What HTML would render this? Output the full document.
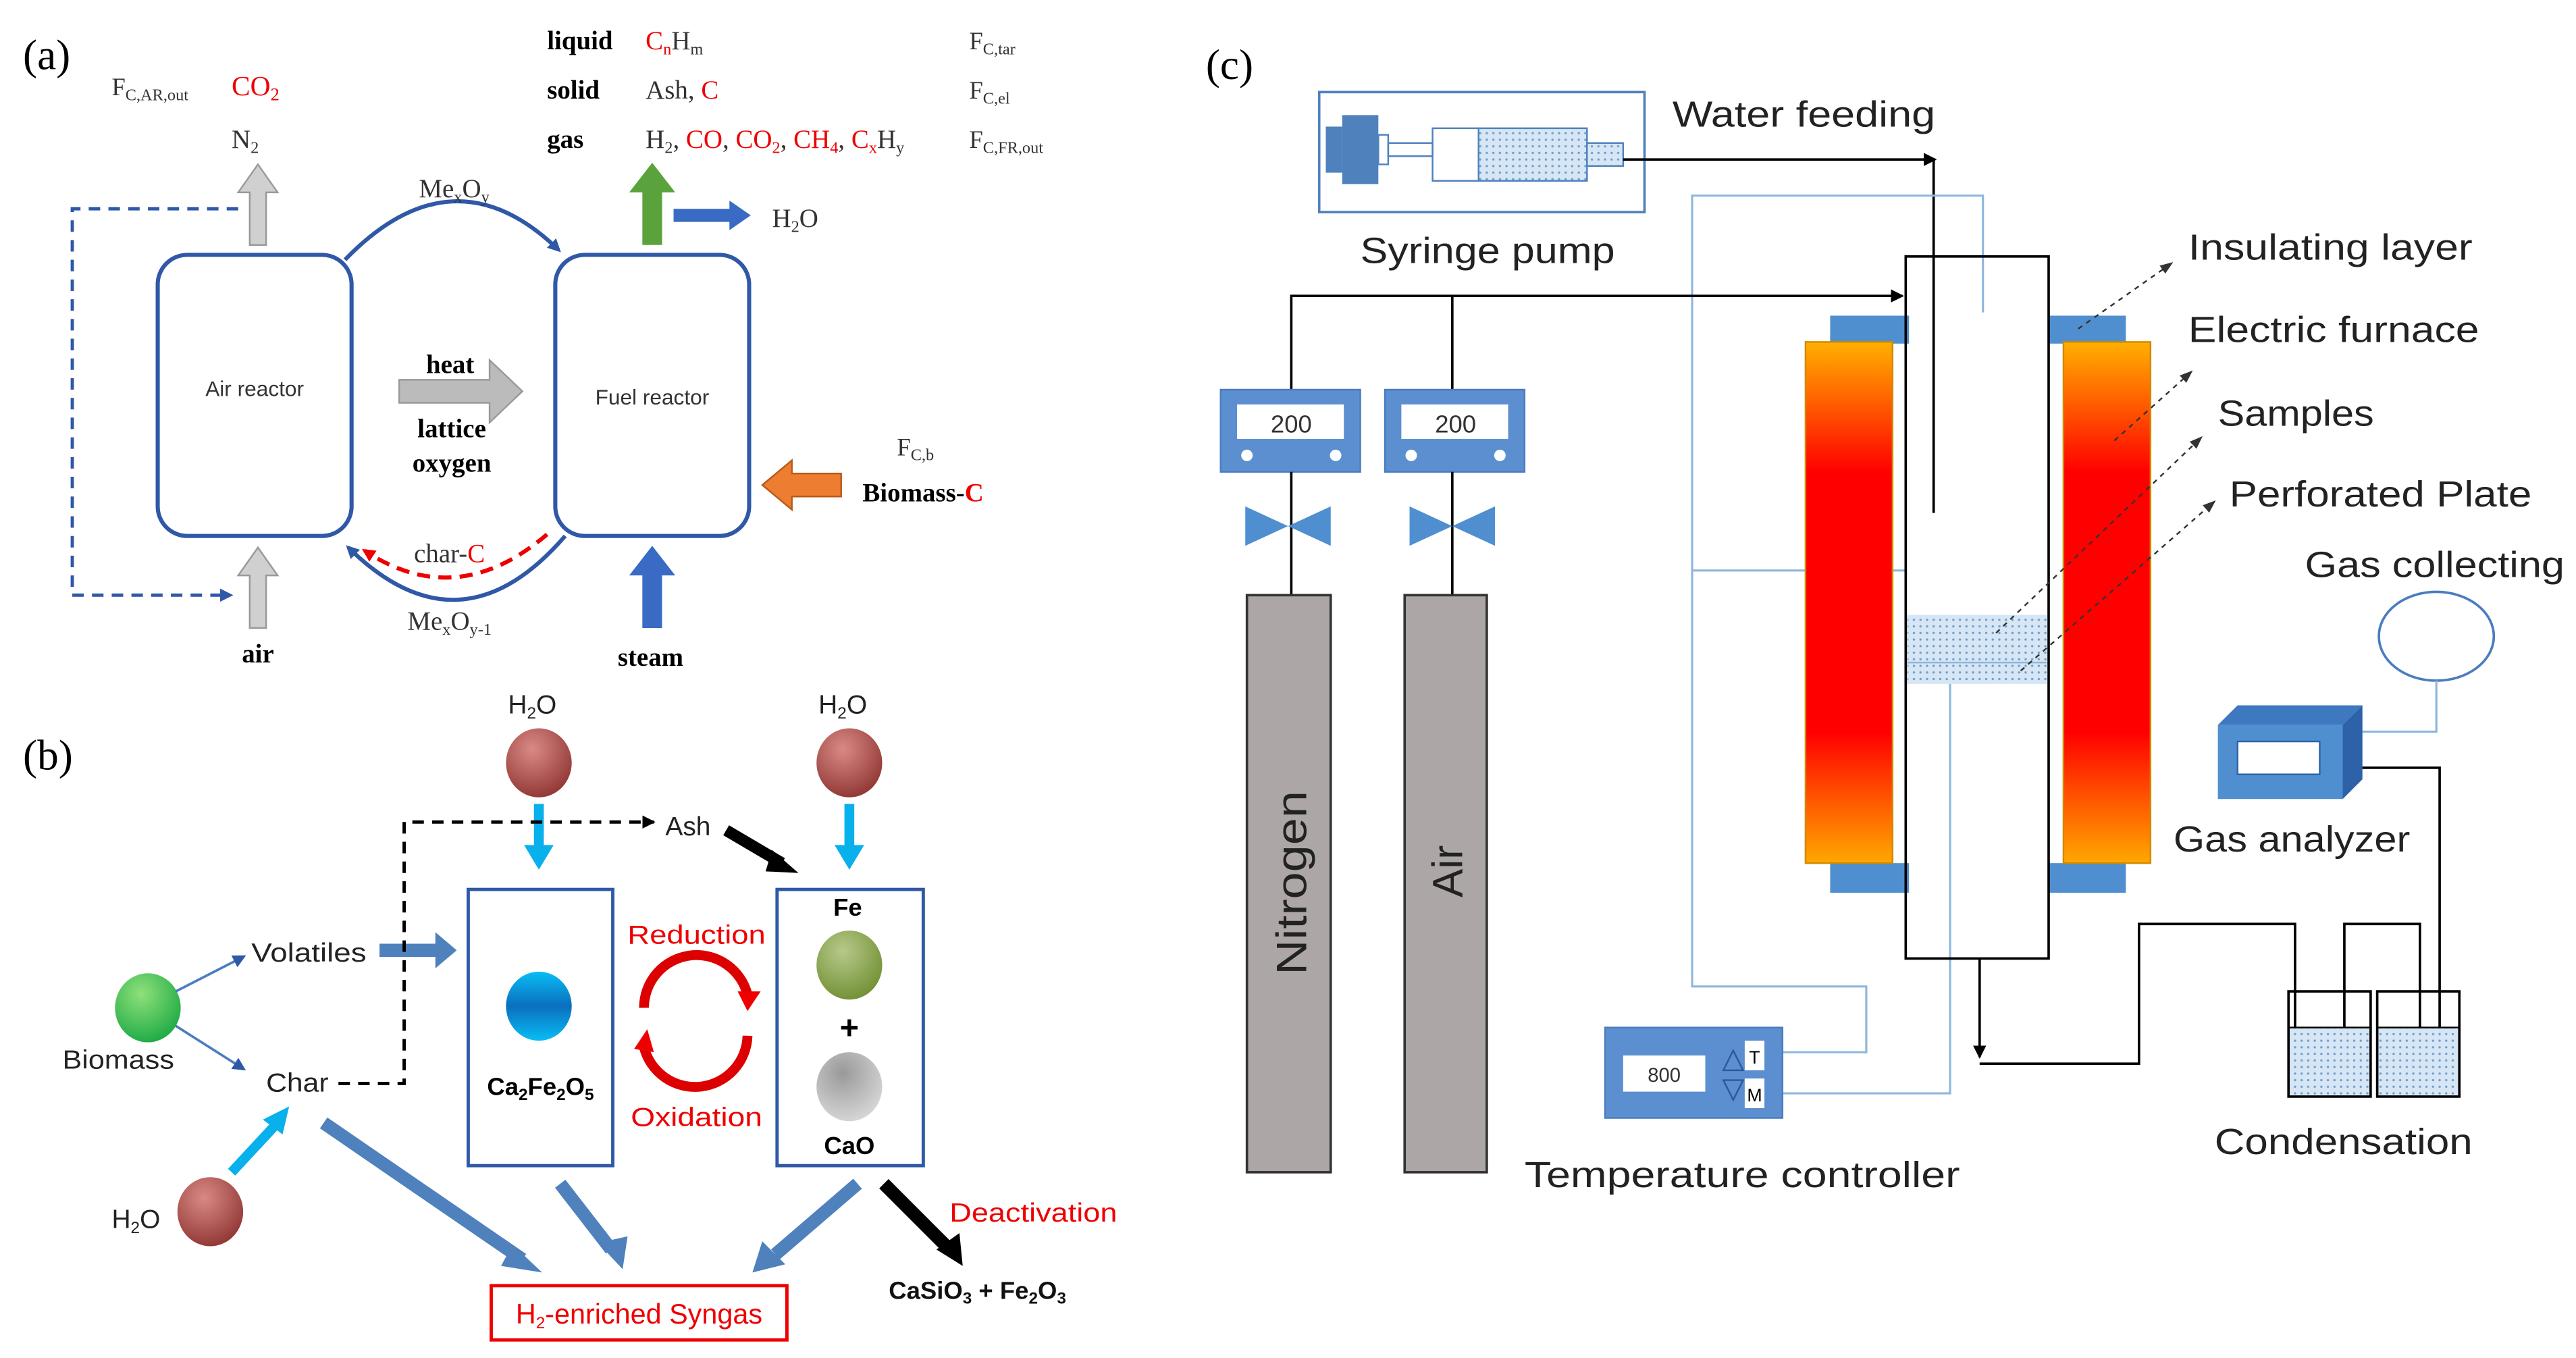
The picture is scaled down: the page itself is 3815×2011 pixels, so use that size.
<!DOCTYPE html>
<html><head><meta charset="utf-8"><style>
html,body{margin:0;padding:0;background:#fff;width:3815px;height:2011px;overflow:hidden}
svg{display:block}
.s{font-family:"Liberation Serif",serif}
.a{font-family:"Liberation Sans",sans-serif}
</style></head><body>
<svg width="3815" height="2011" viewBox="0 0 1568 826" preserveAspectRatio="none" xmlns="http://www.w3.org/2000/svg">
<defs>
<marker id="ab" markerWidth="8" markerHeight="8" refX="6" refY="4" orient="auto" markerUnits="userSpaceOnUse"><path d="M0,0 L8,4 L0,8 Z" fill="#2f58a6"/></marker>
<marker id="ar" markerWidth="8" markerHeight="8" refX="6" refY="4" orient="auto" markerUnits="userSpaceOnUse"><path d="M0,0 L8,4 L0,8 Z" fill="#e00"/></marker>
<marker id="ak" markerWidth="8" markerHeight="8" refX="7" refY="4" orient="auto" markerUnits="userSpaceOnUse"><path d="M0,0 L8,4 L0,8 Z" fill="#000"/></marker>
<marker id="ad" markerWidth="8" markerHeight="8" refX="7" refY="4" orient="auto" markerUnits="userSpaceOnUse"><path d="M0,1 L8,4 L0,7 Z" fill="#333"/></marker>
<radialGradient id="gr" cx="0.4" cy="0.3" r="0.8"><stop offset="0" stop-color="#d98a86"/><stop offset="1" stop-color="#8a2f2c"/></radialGradient>
<radialGradient id="gg" cx="0.4" cy="0.3" r="0.8"><stop offset="0" stop-color="#8fe07a"/><stop offset="1" stop-color="#13a540"/></radialGradient>
<linearGradient id="gb" x1="0" y1="0" x2="0" y2="1"><stop offset="0" stop-color="#08bdf5"/><stop offset="0.5" stop-color="#0a6fbe"/><stop offset="1" stop-color="#08bdf5"/></linearGradient>
<radialGradient id="go" cx="0.4" cy="0.3" r="0.8"><stop offset="0" stop-color="#b7c98a"/><stop offset="1" stop-color="#6b8a2c"/></radialGradient>
<radialGradient id="gy" cx="0.4" cy="0.3" r="0.8"><stop offset="0" stop-color="#999"/><stop offset="1" stop-color="#ddd"/></radialGradient>
<linearGradient id="gf" x1="0" y1="0" x2="0" y2="1"><stop offset="0" stop-color="#ffb000"/><stop offset="0.25" stop-color="#ff0000"/><stop offset="0.75" stop-color="#ff0000"/><stop offset="1" stop-color="#ffa800"/></linearGradient>
<pattern id="dots" width="4" height="4" patternUnits="userSpaceOnUse"><rect width="4" height="4" fill="#d7e6f4"/><circle cx="1" cy="1" r="0.7" fill="#6f9fcf"/></pattern>
</defs>

<!-- ===== Panel (a) ===== -->
<text x="14" y="42" class="s" font-size="26">(a)</text>
<text x="68" y="58" class="s" font-size="15" fill="#333">F<tspan font-size="10" dy="3">C,AR,out</tspan></text>
<text x="141" y="58" class="s" font-size="17" fill="#e00">CO<tspan font-size="11" dy="3">2</tspan></text>
<text x="141" y="90" class="s" font-size="16" fill="#333">N<tspan font-size="10" dy="3">2</tspan></text>
<text x="333" y="30" class="s" font-size="16" font-weight="bold">liquid</text>
<text x="393" y="30" class="s" font-size="16" fill="#e00">C<tspan font-size="10" dy="3">n</tspan><tspan dy="-3" fill="#333">H</tspan><tspan font-size="10" dy="3" fill="#333">m</tspan></text>
<text x="590" y="30" class="s" font-size="15" fill="#333">F<tspan font-size="10" dy="3">C,tar</tspan></text>
<text x="333" y="60" class="s" font-size="16" font-weight="bold">solid</text>
<text x="393" y="60" class="s" font-size="16" fill="#333">Ash, <tspan fill="#e00">C</tspan></text>
<text x="590" y="60" class="s" font-size="15" fill="#333">F<tspan font-size="10" dy="3">C,el</tspan></text>
<text x="333" y="90" class="s" font-size="16" font-weight="bold">gas</text>
<text x="393" y="90" class="s" font-size="16" fill="#333">H<tspan font-size="10" dy="3">2</tspan><tspan dy="-3">, </tspan><tspan fill="#e00">CO</tspan>, <tspan fill="#e00">CO<tspan font-size="10" dy="3">2</tspan></tspan><tspan dy="-3">, </tspan><tspan fill="#e00">CH<tspan font-size="10" dy="3">4</tspan></tspan><tspan dy="-3">, </tspan><tspan fill="#e00">C<tspan font-size="10" dy="3">x</tspan></tspan><tspan dy="-3">H</tspan><tspan font-size="10" dy="3">y</tspan></text>
<text x="590" y="90" class="s" font-size="15" fill="#333">F<tspan font-size="10" dy="3">C,FR,out</tspan></text>

<rect x="96" y="155" width="118" height="171" rx="18" fill="none" stroke="#2f58a6" stroke-width="2.5"/>
<rect x="338" y="155" width="118" height="171" rx="18" fill="none" stroke="#2f58a6" stroke-width="2.5"/>
<text x="155" y="241" class="a" font-size="13" text-anchor="middle" fill="#333">Air reactor</text>
<text x="397" y="246" class="a" font-size="13" text-anchor="middle" fill="#333">Fuel reactor</text>

<path d="M210,158 Q276,90 340,152" fill="none" stroke="#2f58a6" stroke-width="2.5" marker-end="url(#ab)"/>
<text x="255" y="120" class="s" font-size="16" fill="#333">Me<tspan font-size="10" dy="3">x</tspan><tspan dy="-3">O</tspan><tspan font-size="10" dy="3">y</tspan></text>
<path d="M344,326 Q280,400 212,333" fill="none" stroke="#2f58a6" stroke-width="2.5" marker-end="url(#ab)"/>
<path d="M333,325 Q278,372 222,335" fill="none" stroke="#e00" stroke-width="2.5" stroke-dasharray="8,5" marker-end="url(#ar)"/>
<text x="252" y="342" class="s" font-size="16" fill="#333">char-<tspan fill="#e00">C</tspan></text>
<text x="248" y="383" class="s" font-size="16" fill="#333">Me<tspan font-size="10" dy="3">x</tspan><tspan dy="-3">O</tspan><tspan font-size="10" dy="3">y-1</tspan></text>

<path d="M243,231 h55 v-12 l20,19 l-20,19 v-12 h-55 Z" fill="#bbb" stroke="#999"/>
<text x="274" y="227" class="s" font-size="16" font-weight="bold" text-anchor="middle">heat</text>
<text x="275" y="266" class="s" font-size="16" font-weight="bold" text-anchor="middle">lattice</text>
<text x="275" y="287" class="s" font-size="16" font-weight="bold" text-anchor="middle">oxygen</text>

<path d="M152,149 v-32 h-7 l12,-17 l12,17 h-7 v32 Z" fill="#d0d0d0" stroke="#999"/>
<path d="M152,382 v-32 h-7 l12,-17 l12,17 h-7 v32 Z" fill="#d0d0d0" stroke="#999"/>
<text x="157" y="403" class="s" font-size="16" font-weight="bold" text-anchor="middle">air</text>
<path d="M145,127 H44 V362 H140" fill="none" stroke="#2f58a6" stroke-width="2" stroke-dasharray="7,5" marker-end="url(#ab)"/>

<path d="M391,149 v-32 h-8 l14,-18 l14,18 h-8 v32 Z" fill="#5aa23c"/>
<path d="M410,127 h34 v-5 l13,9 l-13,9 v-5 h-34 Z" fill="#3a6bc4"/>
<text x="470" y="138" class="s" font-size="16" fill="#333">H<tspan font-size="10" dy="3">2</tspan><tspan dy="-3">O</tspan></text>
<path d="M391,382 v-32 h-8 l14,-18 l14,18 h-8 v32 Z" fill="#3a6bc4"/>
<text x="396" y="405" class="s" font-size="16" font-weight="bold" text-anchor="middle">steam</text>
<path d="M512,288 h-30 v-8 l-18,15 l18,15 v-8 h30 Z" fill="#ed7d31" stroke="#b85a1a"/>
<text x="546" y="277" class="s" font-size="15" fill="#333">F<tspan font-size="10" dy="3">C,b</tspan></text>
<text x="525" y="305" class="s" font-size="16" font-weight="bold">Biomass-<tspan fill="#e00">C</tspan></text>

<!-- ===== Panel (b) ===== -->
<text x="14" y="468" class="s" font-size="26">(b)</text>
<text x="324" y="434" class="a" font-size="16" text-anchor="middle" fill="#222">H<tspan font-size="10" dy="3">2</tspan><tspan dy="-3">O</tspan></text>
<text x="513" y="434" class="a" font-size="16" text-anchor="middle" fill="#222">H<tspan font-size="10" dy="3">2</tspan><tspan dy="-3">O</tspan></text>
<ellipse cx="328" cy="464" rx="20" ry="21" fill="url(#gr)"/>
<ellipse cx="517" cy="464" rx="20" ry="21" fill="url(#gr)"/>
<ellipse cx="128" cy="737" rx="20" ry="21" fill="url(#gr)"/>
<text x="68" y="747" class="a" font-size="16" fill="#222">H<tspan font-size="10" dy="3">2</tspan><tspan dy="-3">O</tspan></text>
<ellipse cx="90" cy="613" rx="20" ry="21" fill="url(#gg)"/>
<text x="38" y="650" class="a" font-size="16" fill="#222" textLength="68" lengthAdjust="spacingAndGlyphs">Biomass</text>

<path d="M325,489 v25 h-6 l9,15 l9,-15 h-6 v-25 Z" fill="#08b0ec"/>
<path d="M514,489 v25 h-6 l9,15 l9,-15 h-6 v-25 Z" fill="#08b0ec"/>
<rect x="285" y="541" width="88" height="168" fill="none" stroke="#2f58a6" stroke-width="2"/>
<rect x="473" y="541" width="89" height="168" fill="none" stroke="#2f58a6" stroke-width="2"/>
<ellipse cx="328" cy="612" rx="20" ry="21" fill="url(#gb)"/>
<text x="329" y="666" class="a" font-size="15" font-weight="bold" text-anchor="middle">Ca<tspan font-size="10" dy="3">2</tspan><tspan dy="-3">Fe</tspan><tspan font-size="10" dy="3">2</tspan><tspan dy="-3">O</tspan><tspan font-size="10" dy="3">5</tspan></text>
<text x="516" y="557" class="a" font-size="15" font-weight="bold" text-anchor="middle">Fe</text>
<ellipse cx="517" cy="587" rx="20" ry="21" fill="url(#go)"/>
<text x="517" y="632" class="a" font-size="20" font-weight="bold" text-anchor="middle">+</text>
<ellipse cx="517" cy="661" rx="20" ry="21" fill="url(#gy)"/>
<text x="517" y="702" class="a" font-size="15" font-weight="bold" text-anchor="middle">CaO</text>
<text x="382" y="574" class="a" font-size="16" fill="#e00" textLength="84" lengthAdjust="spacingAndGlyphs">Reduction</text>
<text x="384" y="685" class="a" font-size="16" fill="#e00" textLength="80" lengthAdjust="spacingAndGlyphs">Oxidation</text>
<path d="M392,613 A32,32 0 0 1 455,605" fill="none" stroke="#d00" stroke-width="6"/>
<path d="M449,603 l14,0 l-8,12 Z" fill="#e00"/>
<path d="M455,630 A32,32 0 0 1 392,637" fill="none" stroke="#d00" stroke-width="6"/>
<path d="M386,638 l12,2 l-4,-14 Z" fill="#e00"/>

<text x="153" y="585" class="a" font-size="16" fill="#222" textLength="70" lengthAdjust="spacingAndGlyphs">Volatiles</text>
<text x="162" y="664" class="a" font-size="16" fill="#222" textLength="38" lengthAdjust="spacingAndGlyphs">Char</text>
<line x1="107" y1="603" x2="148" y2="582" stroke="#4a7cc0" stroke-width="1.5" marker-end="url(#ab)"/>
<line x1="107" y1="624" x2="148" y2="650" stroke="#4a7cc0" stroke-width="1.5" marker-end="url(#ab)"/>
<path d="M231,574 h34 v-7 l13,11 l-13,11 v-7 h-34 Z" fill="#4f81bd"/>
<path d="M206,659 H246 V500 H398" fill="none" stroke="#000" stroke-width="2" stroke-dasharray="7,5" marker-end="url(#ak)"/>
<text x="405" y="508" class="a" font-size="16" fill="#222">Ash</text>
<line x1="442" y1="505" x2="476" y2="525" stroke="#000" stroke-width="7"/>
<path d="M470,517 l16,14 l-20,-1 Z" fill="#000"/>
<line x1="141" y1="713" x2="167" y2="685" stroke="#08b0ec" stroke-width="6"/>
<path d="M160,681 l16,-8 l-4,17 Z" fill="#08b0ec"/>

<line x1="197" y1="683" x2="318" y2="766" stroke="#4f81bd" stroke-width="8"/>
<path d="M312,757 l18,17 l-25,-4 Z" fill="#4f81bd"/>
<line x1="341" y1="720" x2="372" y2="760" stroke="#4f81bd" stroke-width="8"/>
<path d="M364,756 l15,16 l3,-20 Z" fill="#4f81bd"/>
<line x1="522" y1="720" x2="472" y2="763" stroke="#4f81bd" stroke-width="8"/>
<path d="M464,755 l-6,19 l20,-5 Z" fill="#4f81bd"/>
<line x1="538" y1="720" x2="578" y2="760" stroke="#000" stroke-width="8"/>
<path d="M570,760 l16,10 l-2,-20 Z" fill="#000"/>
<text x="578" y="743" class="a" font-size="16" fill="#e00" textLength="102" lengthAdjust="spacingAndGlyphs">Deactivation</text>
<text x="541" y="790" class="a" font-size="15" font-weight="bold" fill="#111">CaSiO<tspan font-size="10" dy="3">3</tspan><tspan dy="-3"> + Fe</tspan><tspan font-size="10" dy="3">2</tspan><tspan dy="-3">O</tspan><tspan font-size="10" dy="3">3</tspan></text>
<rect x="299" y="782" width="180" height="33" fill="none" stroke="#e00" stroke-width="2"/>
<text x="389" y="805" class="a" font-size="17" fill="#e00" text-anchor="middle">H<tspan font-size="10" dy="3">2</tspan><tspan dy="-3">-enriched Syngas</tspan></text>

<!-- ===== Panel (c) ===== -->
<text x="734" y="48" class="s" font-size="26">(c)</text>
<rect x="803" y="56" width="198" height="73" fill="none" stroke="#4f81bd" stroke-width="1.5"/>
<rect x="807" y="77" width="10" height="28" fill="#4f81bd"/>
<rect x="817" y="70" width="22" height="42" fill="#4f81bd"/>
<rect x="839" y="82" width="6" height="18" fill="none" stroke="#4f81bd"/>
<rect x="845" y="87" width="27" height="8" fill="none" stroke="#4f81bd"/>
<rect x="872" y="78" width="28" height="32" fill="none" stroke="#4f81bd"/>
<rect x="900" y="78" width="66" height="32" fill="url(#dots)" stroke="#4f81bd"/>
<rect x="966" y="87" width="22" height="14" fill="url(#dots)" stroke="#4f81bd"/>
<text x="828" y="160" class="a" font-size="22" fill="#222" textLength="155" lengthAdjust="spacingAndGlyphs">Syringe pump</text>
<text x="1018" y="77" class="a" font-size="22" fill="#222" textLength="160" lengthAdjust="spacingAndGlyphs">Water feeding</text>
<path d="M988,97 H1178" fill="none" stroke="#000" stroke-width="1.5" marker-end="url(#ak)"/>
<line x1="1177" y1="97" x2="1177" y2="312" stroke="#000" stroke-width="1.5"/>

<path d="M1207,190 V119 H1030 V600 H1136 V640 H1085" fill="none" stroke="#8fb7dd" stroke-width="1.3"/>
<line x1="1030" y1="347" x2="1160" y2="347" stroke="#8fb7dd" stroke-width="1.3"/>
<path d="M1187,415 V665 H1085" fill="none" stroke="#8fb7dd" stroke-width="1.3"/>

<rect x="1114" y="192" width="48" height="17" fill="#4f8fd0"/>
<rect x="1247" y="192" width="47" height="17" fill="#4f8fd0"/>
<rect x="1114" y="525" width="48" height="18" fill="#4f8fd0"/>
<rect x="1247" y="525" width="47" height="18" fill="#4f8fd0"/>
<rect x="1099" y="208" width="53" height="317" fill="url(#gf)" stroke="#d08a00"/>
<rect x="1256" y="208" width="53" height="317" fill="url(#gf)" stroke="#d08a00"/>
<rect x="1160" y="156" width="87" height="427" fill="none" stroke="#000" stroke-width="1.5"/>
<rect x="1161" y="374" width="85" height="42" fill="url(#dots)"/>
<line x1="1161" y1="403" x2="1246" y2="403" stroke="#8fb7dd"/>

<line x1="1265" y1="200" x2="1322" y2="160" stroke="#333" stroke-dasharray="3,3" marker-end="url(#ad)"/>
<line x1="1287" y1="268" x2="1334" y2="226" stroke="#333" stroke-dasharray="3,3" marker-end="url(#ad)"/>
<line x1="1215" y1="385" x2="1340" y2="266" stroke="#333" stroke-dasharray="3,3" marker-end="url(#ad)"/>
<line x1="1230" y1="408" x2="1348" y2="305" stroke="#333" stroke-dasharray="3,3" marker-end="url(#ad)"/>
<text x="1332" y="158" class="a" font-size="22" fill="#222" textLength="173" lengthAdjust="spacingAndGlyphs">Insulating layer</text>
<text x="1332" y="208" class="a" font-size="22" fill="#222" textLength="177" lengthAdjust="spacingAndGlyphs">Electric furnace</text>
<text x="1350" y="259" class="a" font-size="22" fill="#222" textLength="95" lengthAdjust="spacingAndGlyphs">Samples</text>
<text x="1357" y="308" class="a" font-size="22" fill="#222" textLength="184" lengthAdjust="spacingAndGlyphs">Perforated Plate</text>
<text x="1403" y="351" class="a" font-size="22" fill="#222" textLength="158" lengthAdjust="spacingAndGlyphs">Gas collecting</text>

<path d="M786,237 V180 H1158" fill="none" stroke="#000" stroke-width="1.5" marker-end="url(#ak)"/>
<line x1="884" y1="180" x2="884" y2="237" stroke="#000" stroke-width="1.5"/>
<rect x="743" y="237" width="85" height="50" fill="#5b8fd0" stroke="#4a7cc0"/>
<rect x="753" y="246" width="65" height="21" fill="#fff"/>
<text x="786" y="263" class="a" font-size="15" text-anchor="middle" fill="#333">200</text>
<circle cx="759" cy="277" r="3.5" fill="#fff"/><circle cx="813" cy="277" r="3.5" fill="#fff"/>
<rect x="843" y="237" width="85" height="50" fill="#5b8fd0" stroke="#4a7cc0"/>
<rect x="853" y="246" width="65" height="21" fill="#fff"/>
<text x="886" y="263" class="a" font-size="15" text-anchor="middle" fill="#333">200</text>
<circle cx="859" cy="277" r="3.5" fill="#fff"/><circle cx="913" cy="277" r="3.5" fill="#fff"/>
<line x1="786" y1="287" x2="786" y2="362" stroke="#000" stroke-width="1.5"/>
<line x1="884" y1="287" x2="884" y2="362" stroke="#000" stroke-width="1.5"/>
<path d="M758,308 L810,332 L810,308 L758,332 Z" fill="#4f8fd0"/>
<path d="M858,308 L910,332 L910,308 L858,332 Z" fill="#4f8fd0"/>
<rect x="759" y="362" width="51" height="351" fill="#aca6a6" stroke="#333" stroke-width="1.5"/>
<rect x="855" y="362" width="50" height="351" fill="#aca6a6" stroke="#333" stroke-width="1.5"/>
<text transform="translate(795,537) rotate(-90)" class="a" font-size="26" text-anchor="middle" fill="#222" textLength="112" lengthAdjust="spacingAndGlyphs">Nitrogen</text>
<text transform="translate(890,530) rotate(-90)" class="a" font-size="26" text-anchor="middle" fill="#222">Air</text>

<rect x="977" y="625" width="108" height="55" fill="#5b8fd0" stroke="#4a7cc0"/>
<rect x="988" y="642" width="50" height="22" fill="#fff"/>
<text x="1013" y="658" class="a" font-size="12" text-anchor="middle" fill="#333">800</text>
<rect x="1062" y="633" width="12" height="18" fill="#fff"/><text x="1068" y="647" class="a" font-size="11" text-anchor="middle">T</text>
<rect x="1062" y="656" width="12" height="18" fill="#fff"/><text x="1068" y="670" class="a" font-size="11" text-anchor="middle">M</text>
<path d="M1049,651 l6,-12 l6,12 Z M1049,657 l6,12 l6,-12 Z" fill="none" stroke="#2a5a9a"/>
<text x="928" y="722" class="a" font-size="22" fill="#222" textLength="265" lengthAdjust="spacingAndGlyphs">Temperature controller</text>

<path d="M1205,583 V643" fill="none" stroke="#000" stroke-width="1.5" marker-end="url(#ak)"/>
<path d="M1205,647 H1302 V562 H1397 V655" fill="none" stroke="#000" stroke-width="1.5"/>
<path d="M1427,655 V562 H1473 V655" fill="none" stroke="#000" stroke-width="1.5"/>
<path d="M1485,655 V467 H1437" fill="none" stroke="#000" stroke-width="1.5"/>
<rect x="1393" y="625" width="50" height="41" fill="url(#dots)"/>
<rect x="1447" y="625" width="50" height="41" fill="url(#dots)"/>
<rect x="1393" y="603" width="50" height="64" fill="none" stroke="#000" stroke-width="1.5"/>
<rect x="1447" y="603" width="50" height="64" fill="none" stroke="#000" stroke-width="1.5"/>
<line x1="1393" y1="625" x2="1443" y2="625" stroke="#000"/>
<line x1="1447" y1="625" x2="1497" y2="625" stroke="#000"/>
<text x="1348" y="702" class="a" font-size="22" fill="#222" textLength="157" lengthAdjust="spacingAndGlyphs">Condensation</text>

<ellipse cx="1483" cy="387" rx="35" ry="27" fill="none" stroke="#4a7cc0" stroke-width="1.5"/>
<path d="M1483,414 V445 H1437" fill="none" stroke="#8fb7dd" stroke-width="1.3"/>
<path d="M1350,441 l12,-12 h76 l-12,12 Z" fill="#3d78c0"/>
<path d="M1426,441 l12,-12 v45 l-12,12 Z" fill="#2e62a8"/>
<rect x="1350" y="441" width="76" height="45" fill="#4f8fd0"/>
<rect x="1362" y="451" width="50" height="20" fill="#fff" stroke="#2e62a8"/>
<text x="1323" y="518" class="a" font-size="22" fill="#222" textLength="144" lengthAdjust="spacingAndGlyphs">Gas analyzer</text>
</svg>
</body></html>
